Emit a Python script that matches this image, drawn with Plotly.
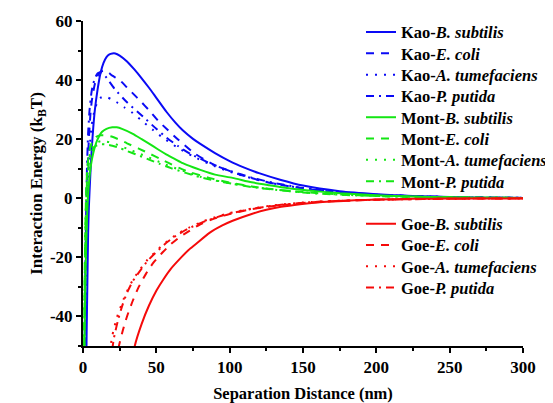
import plotly.graph_objects as go

# ---------------- data ----------------
kao_b_x = [2.0, 2.5, 3, 3.5, 4, 5, 6, 7, 8, 10, 12, 14, 16, 18, 20, 22, 25, 30, 35, 40, 45, 50, 57, 63, 68, 75, 80, 90, 100, 110, 120, 135, 150, 175, 200, 225, 250, 275, 300]
kao_b_y = [-65, -45, -28, -12, -3, 8, 17, 24, 29.5, 37, 42.5, 45.8, 47.8, 48.7, 49, 49, 48.3, 46.3, 43.6, 40.6, 37.4, 34, 29.2, 25.6, 23, 20.1, 18.4, 15.3, 12.6, 10.4, 8.5, 6.2, 4.3, 2.4, 1.4, 0.75, 0.4, 0.2, 0.1]

kao_e_x = [1.2, 1.5, 2, 2.5, 3, 4, 5, 6, 8, 10, 12, 14, 16, 18, 20, 25, 30, 35, 39, 45, 51, 58, 65, 76, 90, 107, 125, 150, 175, 200, 250, 300]
kao_e_y = [-60, -40, -18, -3, 8, 20, 28, 33, 38.5, 41.5, 42.8, 43.2, 43, 42.3, 41.5, 40, 37.5, 35, 33, 29.8, 26.4, 23, 19.8, 15.2, 11.2, 8, 5.5, 3.3, 2, 1.2, 0.4, 0.13]

kao_a_x = [1.5, 2, 2.5, 3, 3.5, 4.5, 6, 8, 10, 12, 14, 16, 19, 23, 28, 33, 40, 48, 55, 65, 75, 90, 100, 115, 130, 150, 175, 200, 250, 300]
kao_a_y = [-60, -35, -15, -2, 7, 17, 25, 30, 32.8, 34, 34.4, 34.3, 33.6, 32.5, 30.8, 29.2, 26.3, 23, 20.3, 17, 14.2, 10.8, 9, 6.8, 5, 3.4, 2, 1.2, 0.4, 0.13]

kao_p_x = [1.0, 1.3, 1.7, 2.2, 2.7, 3.5, 4.5, 6, 8, 10, 12, 14, 16, 21.6, 30, 41, 50, 57, 65, 73, 89, 100, 115, 130, 150, 175, 200, 250, 300]
kao_p_y = [-60, -40, -20, -3, 10, 22, 30, 36.5, 40.5, 42.3, 42.6, 42, 40.8, 37, 32.5, 27.6, 23.5, 20.5, 17.6, 15.1, 11.3, 9.3, 7, 5.2, 3.5, 2.1, 1.2, 0.4, 0.13]

mont_b_x = [0.7, 1, 1.5, 2, 2.5, 3, 3.5, 4.5, 5.5, 7, 9, 11, 13, 16, 20, 23, 27, 34, 40, 45, 51, 57, 63, 68, 75, 80, 90, 102, 115, 127, 140, 152, 175, 200, 225, 250, 275, 300]
mont_b_y = [-65, -50, -32, -19, -10, -3.5, 1.5, 7.5, 11.5, 15.3, 18.8, 21, 22.5, 23.5, 24, 24, 23.4, 21.8, 20, 18.5, 16.6, 14.8, 13.2, 11.9, 10.5, 9.6, 8, 6.9, 5.4, 4.4, 3.4, 2.7, 1.7, 1, 0.6, 0.35, 0.2, 0.1]

mont_e_x = [0.6, 0.9, 1.3, 1.8, 2.3, 3, 4, 5, 7, 9, 12, 16, 20, 25, 30, 38, 45, 52, 59, 66, 73, 86, 102, 115, 125, 150, 175, 200, 250, 300]
mont_e_y = [-65, -40, -20, -5, 4, 10.5, 15, 17.5, 19.8, 20.8, 21.3, 21.3, 20.8, 19.8, 18.6, 16.8, 15.2, 13.5, 11.8, 10.2, 8.8, 6.9, 5.1, 4, 3.3, 2.1, 1.3, 0.8, 0.3, 0.1]

mont_a_x = [0.6, 0.9, 1.3, 1.8, 2.3, 3, 4, 5, 7, 9, 12, 16, 20, 25, 30, 38, 45, 52, 60, 70, 80, 90, 102, 115, 125, 150, 175, 200, 250, 300]
mont_a_y = [-65, -42, -22, -7, 2, 8.5, 13, 15.5, 17.8, 18.8, 19.3, 19.2, 18.7, 17.8, 16.8, 15.2, 13.8, 12.3, 10.7, 9, 7.3, 6.1, 4.9, 3.9, 3.3, 2, 1.25, 0.78, 0.28, 0.1]

mont_p_x = [0.6, 0.9, 1.3, 1.8, 2.3, 3, 4, 5, 7, 9, 12, 16, 20, 25, 30, 38, 45, 52, 60, 70, 80, 90, 102, 115, 125, 150, 175, 200, 250, 300]
mont_p_y = [-65, -42, -23, -8, 1, 7.5, 12, 14.5, 16.8, 17.8, 18.3, 18.2, 17.8, 17, 16, 14.5, 13.1, 11.7, 10.2, 8.6, 7.1, 6, 4.9, 3.8, 3.2, 1.95, 1.2, 0.75, 0.27, 0.1]

goe_b_x = [33, 35.3, 40, 45, 50, 55, 60, 66, 72, 77, 86, 95, 102, 115, 125, 135, 148, 160, 170, 185, 200, 225, 250, 300]
goe_b_y = [-58, -50, -42.5, -36.3, -31.3, -27.3, -23.8, -20.5, -17.5, -15.5, -11.8, -9.2, -7.6, -5.3, -3.9, -2.9, -2, -1.4, -1.1, -0.7, -0.45, -0.2, -0.1, -0.03]

goe_e_x = [22, 24, 27, 30, 34, 38, 43, 48, 54.5, 60, 66, 72, 80, 90, 100, 115, 130, 150, 170, 200, 250, 300]
goe_e_y = [-56, -51, -45, -40, -34.6, -30, -25.5, -21.8, -18.2, -15.5, -13.1, -11.2, -8.8, -6.8, -5.3, -3.7, -2.6, -1.6, -1, -0.5, -0.15, -0.05]

goe_a_x = [17, 18.5, 20, 23, 27, 30, 34, 39, 44, 50, 57, 64, 72, 82, 92, 100, 115, 130, 150, 170, 200, 250, 300]
goe_a_y = [-58, -51, -46.5, -40.5, -35, -31.5, -27.6, -24, -20.8, -17.8, -14.7, -12.2, -10, -7.8, -6.1, -5, -3.5, -2.4, -1.45, -0.9, -0.5, -0.15, -0.05]

goe_p_x = [18, 20, 21, 24, 27, 30, 34, 39, 44, 50, 57, 64, 72, 82, 92, 100, 115, 130, 150, 170, 200, 250, 300]
goe_p_y = [-58, -51, -47.5, -41, -36, -32, -28, -24.5, -21.2, -18.2, -15, -12.5, -10.2, -8, -6.3, -5.2, -3.6, -2.5, -1.5, -0.95, -0.5, -0.15, -0.05]

series_names = [
    "Kao-<i>B. subtilis</i>", "Kao-<i>E. coli</i>", "Kao-<i>A. tumefaciens</i>", "Kao-<i>P. putida</i>",
    "Mont-<i>B. subtilis</i>", "Mont-<i>E. coli</i>", "Mont-<i>A. tumefaciens</i>", "Mont-<i>P. putida</i>",
    "Goe-<i>B. subtilis</i>", "Goe-<i>E. coli</i>", "Goe-<i>A. tumefaciens</i>", "Goe-<i>P. putida</i>",
]
series_x = [kao_b_x, kao_e_x, kao_a_x, kao_p_x, mont_b_x, mont_e_x, mont_a_x, mont_p_x, goe_b_x, goe_e_x, goe_a_x, goe_p_x]
series_y = [kao_b_y, kao_e_y, kao_a_y, kao_p_y, mont_b_y, mont_e_y, mont_a_y, mont_p_y, goe_b_y, goe_e_y, goe_a_y, goe_p_y]

x_ticks = [0, 50, 100, 150, 200, 250, 300]
y_ticks = [-40, -20, 0, 20, 40, 60]
y_tick_labels = ["-40", "-20", "0", "20", "40", "60"]

# ---------------- style ----------------
BLUE, GREEN, RED = "#0a0af5", "#14e614", "#f50a0a"
colors = [BLUE] * 4 + [GREEN] * 4 + [RED] * 4
dashes = ["solid", "8px,7px", "2px,7px", "8px,5px,2px,5px"] * 3
FONT = "Liberation Serif"

# the page body has an 8px margin: positions below are window pixels,
# figure margins are reduced by that offset
OFF = 8
W, H = 553, 403
plot_top, plot_bottom = 21, 346
plot_left, plot_right = 83, 523

fig = go.Figure()

# legend rows (pixel centres); one blank row between the Mont and Goe groups
row0, row_step = 32.3, 21.3
rows = list(range(8)) + list(range(9, 13))

for i, (name, xs, ys) in enumerate(zip(series_names, series_x, series_y)):
    lg = "legend" if i == 0 else f"legend{i + 1}"
    fig.add_trace(go.Scatter(
        x=xs, y=ys, mode="lines", name=name,
        line=dict(color=colors[i], width=2, dash=dashes[i], shape="spline", smoothing=0.6),
        legend=lg, showlegend=True,
    ))
    yc = row0 + rows[i] * row_step
    fig.update_layout(**{lg: dict(
        x=(361 - plot_left) / (plot_right - plot_left), xanchor="left",
        y=(plot_bottom - yc) / (plot_bottom - plot_top), yanchor="middle",
        bgcolor="rgba(0,0,0,0)", borderwidth=0,
        font=dict(family=FONT, size=16.5, color="black", weight="bold"),
        itemclick=False, itemdoubleclick=False,
    )})

axis_common = dict(
    showline=True, linecolor="black", linewidth=2, mirror=False,
    ticks="outside", ticklen=5, tickwidth=2, tickcolor="black",
    showgrid=False, zeroline=False,
    tickfont=dict(family=FONT, size=17, color="black", weight="bold"),
)

fig.update_xaxes(
    range=[0, 300], tickvals=x_ticks, **axis_common,
    minor=dict(ticks="outside", ticklen=3, tickwidth=2, tickcolor="black", dtick=25, tick0=0),
    title=dict(text="Separation Distance (nm)", standoff=11,
               font=dict(family=FONT, size=16.5, color="black", weight="bold")),
)
fig.update_yaxes(
    range=[-50, 60], tickvals=y_ticks, ticktext=y_tick_labels, **axis_common,
    minor=dict(ticks="outside", ticklen=3, tickwidth=2, tickcolor="black", dtick=10, tick0=0),
    title=dict(text="Interaction Energy (k<sub>B</sub>T)", standoff=3,
               font=dict(family=FONT, size=17, color="black", weight="bold")),
)

fig.update_layout(
    width=W, height=H,
    margin=dict(l=plot_left - OFF, r=W - plot_right + OFF, t=plot_top - OFF,
                b=H - plot_bottom + OFF, autoexpand=False),
    paper_bgcolor="white", plot_bgcolor="white",
)

fig.write_html("out.html")
